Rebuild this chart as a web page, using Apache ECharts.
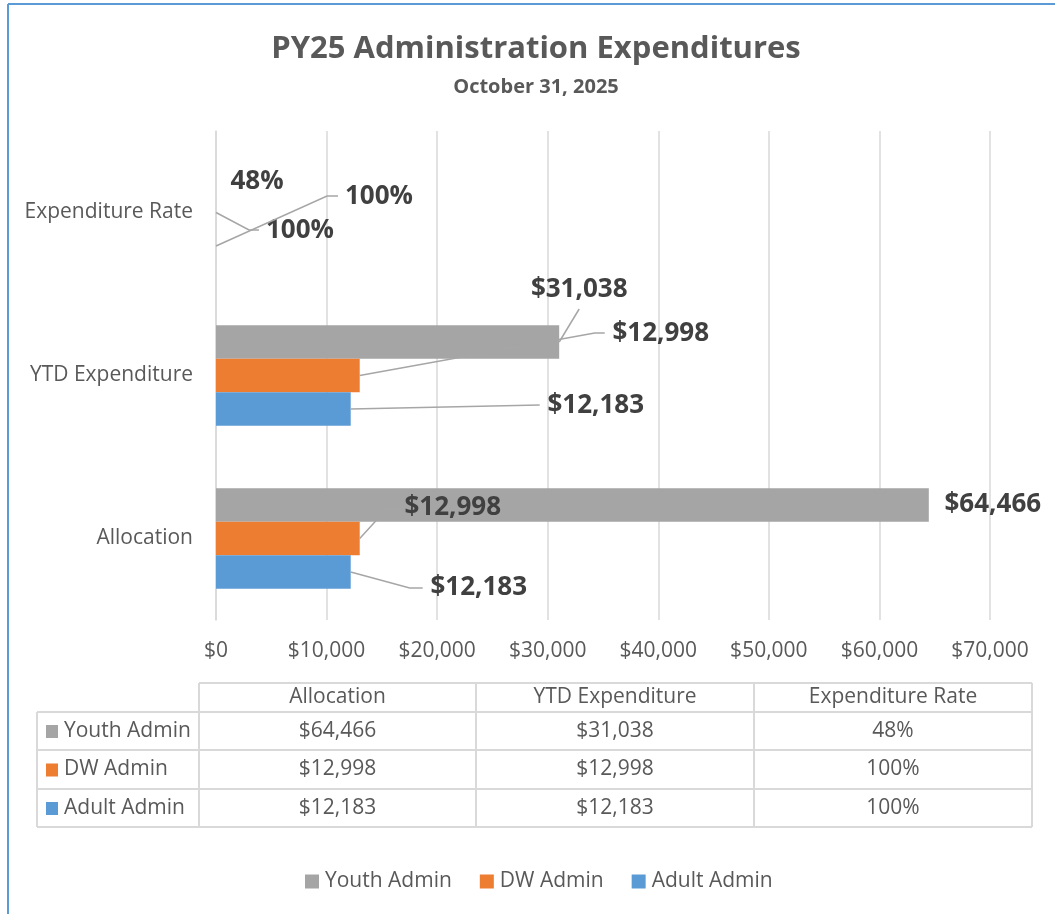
<!DOCTYPE html>
<html><head><meta charset="utf-8">
<script src="https://cdn.jsdelivr.net/npm/echarts@6/dist/echarts.min.js"></script>
<style>html,body{margin:0;padding:0;background:#fff}#c{width:1055px;height:914px}</style>
</head><body><div id="c"></div>
<script>
// ---- data ----
const categories = ['Allocation', 'YTD Expenditure', 'Expenditure Rate'];
const adultAdmin = [12183, 12183, 1.00];
const dwAdmin = [12998, 12998, 1.00];
const youthAdmin = [64466, 31038, 0.48];
const xTickValues = [0, 10000, 20000, 30000, 40000, 50000, 60000, 70000];
const legendOrder = ['Youth Admin', 'DW Admin', 'Adult Admin'];

// ---- styling / layout (not data) ----
const FONT = 'Open Sans';
const BAR_W = 33.5;
const COLORS = { 'Adult Admin': '#5b9bd5', 'DW Admin': '#ed7d31', 'Youth Admin': '#a5a5a5' };
const barSlot = { 'Youth Admin': -1, 'DW Admin': 0, 'Adult Admin': 1 };
// label centre offsets relative to bar end (x) and bar centre (y), per category index
const labelOffsets = {
  'Adult Admin': [[128, 16], [245, -3], [163, -49]],
  'DW Admin':    [[93, -30.5], [301, -41.5], [84, 18.5]],
  'Youth Admin': [[64, 0], [20, -52], [41, 3]]
};
// leader line points (after the bar-end anchor), relative to bar end / bar centre
const lineOffsets = {
  'Adult Admin': [[[59, 16], [72, 16]], [[189, -4]], [[111, -50], [122, -50]]],
  'DW Admin':    [[[27, -29.5], [40, -29.5]], [[235, -42.5], [245, -42.5]], [[33, 17.5], [43, 17.5]]],
  'Youth Admin': [null, [[20, -33]], null]
};

function fmtVal(v, catIdx) {
  if (categories[catIdx] === 'Expenditure Rate') return Math.round(v * 100) + '%';
  return '$' + Math.round(v).toLocaleString('en-US');
}

const seriesData = { 'Adult Admin': adultAdmin, 'DW Admin': dwAdmin, 'Youth Admin': youthAdmin };
// first series is drawn at the top of each band
const seriesOrder = ['Youth Admin', 'DW Admin', 'Adult Admin'];

const series = seriesOrder.map(name => ({
  name: name,
  type: 'bar',
  barWidth: BAR_W,
  barGap: '0%',
  itemStyle: { color: COLORS[name] },
  data: seriesData[name],
  label: {
    show: true,
    position: 'right',
    fontFamily: FONT,
    fontWeight: 'bold',
    fontSize: 26,
    color: '#404040',
    formatter: p => fmtVal(p.value, p.dataIndex)
  },
  labelLayout: function (params) {
    const off = labelOffsets[name][params.dataIndex];
    const r = params.rect;
    return {
      x: r.x + r.width + off[0],
      y: r.y + r.height / 2 + off[1],
      align: 'center',
      verticalAlign: 'middle'
    };
  },
  z: 1
}));

// leader lines as a custom series (anchored through the axes)
const leaderItems = [];
const leaderPts = [];
seriesOrder.forEach(name => {
  seriesData[name].forEach((v, i) => {
    const pts = lineOffsets[name][i];
    if (!pts) return;
    leaderItems.push([v, i, barSlot[name]]);
    leaderPts.push(pts);
  });
});
series.push({
  type: 'custom',
  name: 'leaders',
  silent: true,
  z: 2,
  encode: { x: 0, y: 1 },
  data: leaderItems,
  renderItem: function (params, api) {
    const p = api.coord([api.value(0), api.value(1)]);
    const x0 = p[0], y0 = p[1] + api.value(2) * BAR_W;
    const points = [[x0, y0]].concat(leaderPts[params.dataIndex].map(o => [x0 + o[0], y0 + o[1]]));
    return { type: 'polyline', shape: { points: points },
      style: { stroke: '#a6a6a6', lineWidth: 1.5, fill: null } };
  }
});

// ---- data table (graphic) ----
const colX = [199, 476, 754, 1032];
const rowY = [683, 712, 750, 789, 827];
const tableLeft = 37;
const TFS = 21;
const lineStyle = { stroke: '#d9d9d9', lineWidth: 2 };
const g = [];
// chart border (blue)
g.push({ type: 'line', shape: { x1: 8, y1: 4, x2: 1055, y2: 4 }, style: { stroke: '#5b9bd5', lineWidth: 2 } });
g.push({ type: 'line', shape: { x1: 8, y1: 4, x2: 8, y2: 914 }, style: { stroke: '#5b9bd5', lineWidth: 2 } });
// horizontal lines
g.push({ type: 'line', shape: { x1: colX[0], y1: rowY[0], x2: colX[3], y2: rowY[0] }, style: lineStyle });
for (let r = 1; r < rowY.length; r++) {
  g.push({ type: 'line', shape: { x1: tableLeft, y1: rowY[r], x2: colX[3], y2: rowY[r] }, style: lineStyle });
}
// vertical lines
colX.forEach(x => g.push({ type: 'line', shape: { x1: x, y1: rowY[0], x2: x, y2: rowY[4] }, style: lineStyle }));
g.push({ type: 'line', shape: { x1: tableLeft, y1: rowY[1], x2: tableLeft, y2: rowY[4] }, style: lineStyle });
// header
categories.forEach((c, i) => {
  g.push({ type: 'text', x: (colX[i] + colX[i + 1]) / 2, y: (rowY[0] + rowY[1]) / 2,
    style: { text: c, fontFamily: FONT, fontSize: TFS, fill: '#595959', align: 'center', verticalAlign: 'middle' } });
});
// rows
legendOrder.forEach((name, r) => {
  const cy = (rowY[r + 1] + rowY[r + 2]) / 2;
  g.push({ type: 'rect', shape: { x: 46, y: cy - 6, width: 12, height: 13 }, style: { fill: COLORS[name] } });
  g.push({ type: 'text', x: 64, y: cy,
    style: { text: name, fontFamily: FONT, fontSize: TFS, fill: '#595959', align: 'left', verticalAlign: 'middle' } });
  seriesData[name].forEach((v, i) => {
    g.push({ type: 'text', x: (colX[i] + colX[i + 1]) / 2, y: cy,
      style: { text: fmtVal(v, i), fontFamily: FONT, fontSize: TFS, fill: '#595959', align: 'center', verticalAlign: 'middle' } });
  });
});

const chart = echarts.init(document.getElementById('c'), null, { renderer: 'canvas' });
chart.setOption({
  animation: false,
  backgroundColor: '#ffffff',
  textStyle: { fontFamily: FONT },
  title: {
    text: 'PY25 Administration Expenditures',
    subtext: 'October 31, 2025',
    left: 531, top: 29, textAlign: 'center',
    itemGap: 12,
    textStyle: { fontFamily: FONT, fontSize: 31, fontWeight: 'bold', color: '#595959' },
    subtextStyle: { fontFamily: FONT, fontSize: 20, fontWeight: 'bold', color: '#595959' }
  },
  legend: {
    data: legendOrder,
    bottom: 17,
    left: 300,
    icon: 'rect',
    itemWidth: 14, itemHeight: 14, itemGap: 28,
    textStyle: { fontFamily: FONT, fontSize: 21, color: '#595959', padding: [0, 0, 0, 1] }
  },
  grid: { left: 216, right: 65, top: 131, bottom: 294, containLabel: false },
  xAxis: {
    type: 'value',
    min: xTickValues[0], max: xTickValues[xTickValues.length - 1],
    interval: xTickValues[1] - xTickValues[0],
    axisLine: { show: false }, axisTick: { show: false },
    splitLine: { show: true, lineStyle: { color: '#d9d9d9', width: 1.5 } },
    axisLabel: { fontFamily: FONT, fontSize: 21, color: '#595959', margin: 21,
      formatter: v => '$' + v.toLocaleString('en-US') }
  },
  yAxis: {
    type: 'category',
    data: categories,
    axisLine: { show: true, lineStyle: { color: '#d9d9d9', width: 1.5 } },
    axisTick: { show: false },
    axisLabel: { fontFamily: FONT, fontSize: 21, color: '#595959', margin: 23 }
  },
  series: series,
  graphic: g
});
</script></body></html>
